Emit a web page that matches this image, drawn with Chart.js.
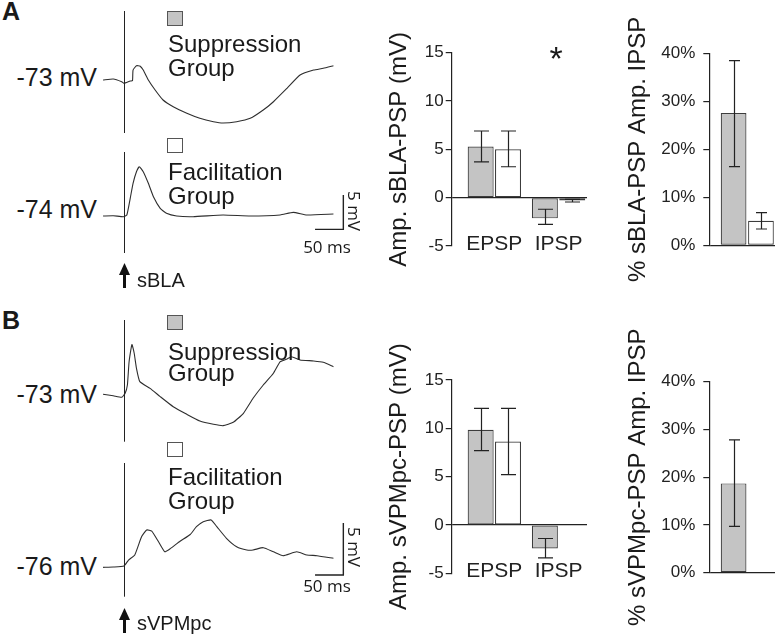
<!DOCTYPE html>
<html>
<head>
<meta charset="utf-8">
<script src="https://cdn.jsdelivr.net/npm/chart.js@4.4.1/dist/chart.umd.min.js"></script>
<style>
  body { margin: 0; background: #fff; width: 777px; height: 639px; overflow: hidden; position: relative;
         font-family: "Liberation Sans", Arial, sans-serif; color: #1a1a1a; }
  canvas { position: absolute; }
  .t { position: absolute; line-height: 1; white-space: nowrap; }
  .sq { position: absolute; width: 14px; height: 13px; border: 1px solid #555; }
</style>
</head>
<body>
<canvas id="traceA" width="270" height="300" style="left:100px;top:0px"></canvas>
<canvas id="ampA" width="222" height="300" style="left:370px;top:0px"></canvas>
<canvas id="pctA" width="177" height="300" style="left:600px;top:0px"></canvas>
<canvas id="traceB" width="270" height="329" style="left:100px;top:310px"></canvas>
<canvas id="ampB" width="222" height="329" style="left:370px;top:310px"></canvas>
<canvas id="pctB" width="177" height="329" style="left:600px;top:310px"></canvas>

<div class="sq" style="left:167px;top:11px;background:#c4c4c4"></div>
<div class="sq" style="left:167px;top:138px;background:#fff"></div>
<div class="sq" style="left:167px;top:315px;background:#c4c4c4"></div>
<div class="sq" style="left:167px;top:442px;background:#fff"></div>

<script>
// ---- data: membrane potential traces (time in ms, change from baseline in mV) ----
const aSupT = [-37, -19, -4, 0, 11, 15, 16, 22, 28, 34, 43, 55, 69, 87, 111, 134, 158, 175, 199, 223, 246, 264, 288, 311, 335, 352, 370];
const aSupV = [0.15, 0.3, -0.1, -0.34, 0, 0.05, 1.6, 2.23, 2.19, 1.6, 0.15, -1.31, -2.77, -3.75, -4.71, -5.44, -5.93, -6.12, -5.93, -5.44, -4.23, -3.02, -1.06, 0.87, 1.6, 1.85, 2.23];
const aFacT = [-37, -19, -1, 5, 11, 16, 22, 27, 34, 43, 52, 64, 75, 93, 122, 175, 223, 276, 299, 323, 370];
const aFacV = [0, 0.04, -0.1, 0.15, 2.58, 4.77, 6.46, 7.19, 6.46, 4.77, 2.81, 1.12, 0.39, 0, -0.1, 0.15, 0, 0.15, 0.54, 0.15, 0.29];
const bSupT = [-37, -19, -4, 2, 6, 9, 14, 18, 22, 28, 46, 64, 87, 111, 134, 158, 175, 193, 211, 228, 246, 264, 276, 288, 296, 311, 335, 352, 370];
const bSupV = [0.07, -0.07, -0.22, 0.16, 0.96, 3.2, 4.85, 4.01, 2.57, 1.28, 0.64, -0.16, -1.13, -1.86, -2.5, -2.82, -2.95, -2.63, -1.76, -0.32, 0.96, 2.09, 3.2, 3.46, 3.68, 3.37, 3.27, 3.14, 2.72];
const bFacT = [-37, -19, 0, 8, 19, 31, 40, 49, 61, 72, 81, 99, 117, 128, 140, 154, 164, 181, 199, 217, 228, 246, 264, 281, 305, 323, 341, 370];
const bFacV = [-0.06, -0.03, 0.07, 0.64, 1.13, 2.88, 3.53, 3.43, 2.4, 1.44, 1.7, 2.45, 3.1, 3.85, 4.33, 4.5, 3.85, 2.73, 1.92, 1.61, 1.61, 1.83, 1.44, 1.06, 1.44, 1.13, 1.06, 0.81];

// ---- data: PSP amplitudes (mV), mean with error range ----
const pspCategories = ['EPSP', 'IPSP'];
const aSupAmp = [5.3, -2.14];
const aSupLo = [3.7, -2.76];
const aSupHi = [6.9, -1.2];
const aFacAmp = [5.0, -0.3];
const aFacLo = [3.2, -0.45];
const aFacHi = [6.9, -0.18];
const bSupAmp = [9.84, -2.44];
const bSupLo = [7.7, -3.4];
const bSupHi = [12.07, -1.4];
const bFacAmp = [8.63, null];
const bFacLo = [5.2, null];
const bFacHi = [12.07, null];

// ---- data: % IPSP amplitude ----
const aSupPct = [27.6], aSupPctLo = [16.4], aSupPctHi = [38.5];
const aFacPct = [5.1], aFacPctLo = [3.4], aFacPctHi = [6.8];
const bSupPct = [18.7], bSupPctLo = [9.7], bSupPctHi = [27.8];
const bFacPct = [null], bFacPctLo = [null], bFacPctHi = [null];

const INK = '#222';
const GRAY = '#c4c4c4';
const EDGE = '#3c3c3c';
Chart.defaults.font.family = '"Liberation Sans", Arial, sans-serif';
Chart.defaults.color = INK;

// text overlay placed by baseline
function label(text, x, base, size, extra) {
  const d = document.createElement('div');
  d.className = 't';
  d.textContent = text;
  d.style.fontSize = size + 'px';
  d.style.left = x + 'px';
  d.style.top = (base - 0.8465 * size) + 'px';
  if (extra) Object.assign(d.style, extra);
  document.body.appendChild(d);
  return d;
}
function labelRight(text, right, base, size, extra) {
  const d = label(text, 0, base, size, extra);
  d.style.left = 'auto';
  d.style.right = (777 - right) + 'px';
}
function rotLabel(text, cx, cy, size, deg) {
  label(text, cx, cy, size, { top: cy + 'px', fontFamily: '"Open Sans", sans-serif',
    transform: 'translate(-50%,-50%) rotate(' + deg + 'deg)' });
}

// stimulus marker, arrow and scale bar drawn through the trace scales
const traceDeco = {
  id: 'traceDeco',
  afterDatasetsDraw(chart, args, o) {
    const { ctx, scales: { x, y } } = chart;
    const sx = Math.round(x.getPixelForValue(0)) + 0.5;
    ctx.save();
    ctx.strokeStyle = INK;
    ctx.fillStyle = '#111';
    ctx.lineWidth = 1;
    ctx.beginPath();
    o.stim.forEach(([a, b]) => { ctx.moveTo(sx, a); ctx.lineTo(sx, b); });
    ctx.stroke();

    ctx.lineWidth = 1.4;
    const bx0 = x.getPixelForValue(o.barT - 50), bx1 = x.getPixelForValue(o.barT);
    const by0 = y.getPixelForValue(o.barV), by1 = y.getPixelForValue(o.barV + 5);
    ctx.beginPath();
    ctx.moveTo(bx0, by0); ctx.lineTo(bx1, by0); ctx.lineTo(bx1, by1);
    ctx.stroke();

    ctx.strokeStyle = '#111';
    ctx.lineWidth = 3;
    ctx.beginPath();
    ctx.moveTo(sx, o.arrow[0] + 8); ctx.lineTo(sx, o.arrow[1]);
    ctx.stroke();
    ctx.beginPath();
    ctx.moveTo(sx, o.arrow[0]);
    ctx.lineTo(sx - 5.5, o.arrow[0] + 12);
    ctx.lineTo(sx + 5.5, o.arrow[0] + 12);
    ctx.closePath();
    ctx.fill();
    ctx.restore();
  }
};

function traceChart(id, supT, supV, facT, facV, cfg) {
  const pts = (t, v, off) => t.map((ms, i) => ({ x: ms, y: v[i] + off }));
  const line = { borderColor: '#2e2e2e', borderWidth: 1.1, pointRadius: 0, tension: 0.15, fill: false };
  return new Chart(document.getElementById(id), {
    type: 'line',
    data: {
      datasets: [
        Object.assign({ data: pts(supT, supV, 0) }, line),
        Object.assign({ data: pts(facT, facV, cfg.facOffset) }, line)
      ]
    },
    options: {
      animation: false, responsive: false, events: [],
      layout: { padding: 0 },
      plugins: { legend: { display: false }, tooltip: { enabled: false }, traceDeco: cfg.deco },
      scales: {
        x: { type: 'linear', min: cfg.xMin, max: cfg.xMax, display: false },
        y: { type: 'linear', min: cfg.yMin, max: cfg.yMax, display: false }
      }
    },
    plugins: [traceDeco]
  });
}

// error bars from the lo/hi arrays, placed with the value scale
const errorBars = {
  id: 'errorBars',
  afterDatasetsDraw(chart, args, o) {
    const { ctx } = chart;
    const ys = chart.scales.y;
    ctx.save();
    ctx.strokeStyle = INK;
    ctx.lineWidth = 1.2;
    chart.data.datasets.forEach((ds, i) => {
      chart.getDatasetMeta(i).data.forEach((bar, j) => {
        if (ds.lo[j] == null) return;
        const x = Math.round(bar.x) + 0.5;
        const y1 = ys.getPixelForValue(ds.lo[j]), y2 = ys.getPixelForValue(ds.hi[j]);
        ctx.beginPath();
        ctx.moveTo(x, y1); ctx.lineTo(x, y2);
        ctx.moveTo(x - o.cap / 2, y1); ctx.lineTo(x + o.cap / 2, y1);
        ctx.moveTo(x - o.cap / 2, y2); ctx.lineTo(x + o.cap / 2, y2);
        ctx.stroke();
      });
    });
    ctx.restore();
  }
};

const catLabels = {
  id: 'catLabels',
  afterDraw(chart, args, o) {
    if (!o.labels) return;
    const { ctx, chartArea, scales: { x } } = chart;
    ctx.save();
    ctx.fillStyle = INK;
    ctx.font = o.size + 'px "Liberation Sans", Arial, sans-serif';
    ctx.textAlign = 'center';
    ctx.textBaseline = 'alphabetic';
    o.labels.forEach((name, i) => ctx.fillText(name, x.getPixelForValue(i + 1), chartArea.bottom + 4));
    ctx.restore();
  }
};

function barSet(vals, lo, hi, fill, cat, bar) {
  return {
    data: vals.map((v, i) => ({ x: i + 1, y: v })),
    lo: lo, hi: hi,
    backgroundColor: fill, borderColor: EDGE, borderWidth: 1.2, borderSkipped: false,
    categoryPercentage: cat, barPercentage: bar
  };
}

function barChart(id, cfg) {
  return new Chart(document.getElementById(id), {
    type: 'bar',
    data: {
      datasets: [
        barSet(cfg.sup, cfg.supLo, cfg.supHi, GRAY, cfg.cat, cfg.bar),
        barSet(cfg.fac, cfg.facLo, cfg.facHi, '#fff', cfg.cat, cfg.bar)
      ]
    },
    options: {
      animation: false, responsive: false, events: [],
      layout: { padding: cfg.pad },
      plugins: {
        legend: { display: false }, tooltip: { enabled: false },
        errorBars: { cap: cfg.cap },
        catLabels: { labels: cfg.labels, size: 21 }
      },
      scales: {
        x: {
          type: 'linear', min: cfg.xMin, max: cfg.xMax, offset: false, display: false,
          afterBuildTicks: s => { s.ticks = cfg.sup.map((v, i) => ({ value: i + 1 })); }
        },
        y: {
          min: cfg.yMin, max: cfg.yMax,
          ticks: { stepSize: cfg.step, font: { size: 17 }, color: INK, padding: cfg.tickPad,
                   callback: cfg.fmt || (v => v) },
          grid: { color: c => (c.tick && c.tick.value === 0 ? INK : 'rgba(0,0,0,0)'),
                  tickColor: INK, tickLength: 6, lineWidth: 1.2 },
          border: { color: INK, width: 1.2 },
          title: { display: true, text: cfg.title, font: { size: 24 }, color: '#1a1a1a',
                   padding: { top: cfg.titlePad, bottom: 0 } },
          afterFit: s => { s.width = cfg.axisW; }
        }
      }
    },
    plugins: [errorBars, catLabels]
  });
}

// ---- panel A ----
traceChart('traceA', aSupT, aSupV, aFacT, aFacV, {
  xMin: -42.4, xMax: 434.6, yMin: -31.92, yMax: 11.81, facOffset: -19.68,
  deco: { stim: [[11, 133], [152, 253]], arrow: [263, 288], barT: 387.5, barV: -21.62 }
});
barChart('ampA', {
  sup: aSupAmp, supLo: aSupLo, supHi: aSupHi, fac: aFacAmp, facLo: aFacLo, facHi: aFacHi,
  labels: pspCategories, title: 'Amp. sBLA-PSP (mV)',
  xMin: 0.336, xMax: 2.443, yMin: -5, yMax: 15, step: 5, cat: 0.852, bar: 0.95, cap: 15,
  pad: { top: 52.7, bottom: 54, right: 5, left: 0 }, axisW: 81.7, tickPad: 2, titlePad: 15
});
barChart('pctA', {
  sup: aSupPct, supLo: aSupPctLo, supHi: aSupPctHi, fac: aFacPct, facLo: aFacPctLo, facHi: aFacPctHi,
  title: '% sBLA-PSP Amp. IPSP', fmt: v => v + '%',
  xMin: 0.422, xMax: 1.422, yMin: 0, yMax: 40, step: 10, cat: 0.833, bar: 0.94, cap: 11,
  pad: { top: 53.5, bottom: 54.7, right: 2, left: 0 }, axisW: 109.3, tickPad: 8, titlePad: 24
});

// ---- panel B ----
traceChart('traceB', bSupT, bSupV, bFacT, bFacV, {
  xMin: -42.4, xMax: 434.6, yMin: -23.46, yMax: 8.17, facOffset: -16.51,
  deco: { stim: [[10, 131.7], [153, 286.7]], arrow: [298, 323], barT: 387.5, barV: -17.31 }
});
barChart('ampB', {
  sup: bSupAmp, supLo: bSupLo, supHi: bSupHi, fac: bFacAmp, facLo: bFacLo, facHi: bFacHi,
  labels: pspCategories, title: 'Amp. sVPMpc-PSP (mV)',
  xMin: 0.336, xMax: 2.443, yMin: -5, yMax: 15, step: 5, cat: 0.852, bar: 0.95, cap: 15,
  pad: { top: 70, bottom: 65.7, right: 5, left: 0 }, axisW: 81.7, tickPad: 2, titlePad: 15
});
barChart('pctB', {
  sup: bSupPct, supLo: bSupPctLo, supHi: bSupPctHi, fac: bFacPct, facLo: bFacPctLo, facHi: bFacPctHi,
  title: '% sVPMpc-PSP Amp. IPSP', fmt: v => v + '%',
  xMin: 0.422, xMax: 1.422, yMin: 0, yMax: 40, step: 10, cat: 0.833, bar: 0.94, cap: 11,
  pad: { top: 71.7, bottom: 66.3, right: 2, left: 0 }, axisW: 109.3, tickPad: 8, titlePad: 24
});

// ---- text ----
label('A', 2, 20, 25, { fontWeight: 'bold' });
labelRight('-73 mV', 97, 86, 25);
labelRight('-74 mV', 97, 218.3, 25);
label('Suppression', 168, 52.7, 24);
label('Group', 168, 76, 24);
label('Facilitation', 168, 180, 24);
label('Group', 168, 204, 24);
label('sBLA', 137, 287, 20);
rotLabel('5 mV', 354, 211, 17, 90);
label('50 ms', 327, 252, 17, { transform: 'translateX(-50%)', fontFamily: '"Open Sans", sans-serif' });
label('*', 556, 70, 34, { transform: 'translateX(-50%)' });

label('B', 2, 329, 25, { fontWeight: 'bold' });
labelRight('-73 mV', 97, 403.3, 25);
labelRight('-76 mV', 97, 575, 25);
label('Suppression', 168, 360, 24);
label('Group', 168, 381, 24);
label('Facilitation', 168, 485, 24);
label('Group', 168, 509.3, 24);
label('sVPMpc', 137, 630, 20);
rotLabel('5 mV', 354, 547, 17, 90);
label('50 ms', 327, 591, 17, { transform: 'translateX(-50%)', fontFamily: '"Open Sans", sans-serif' });
</script>
</body>
</html>
